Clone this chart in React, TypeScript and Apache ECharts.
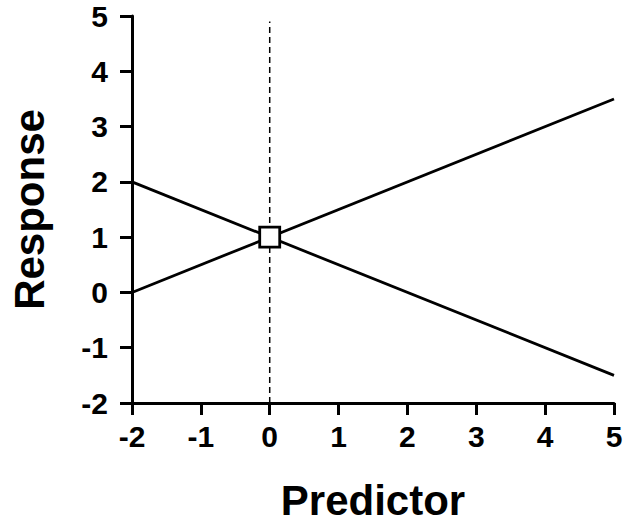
import React, { useEffect, useRef } from "react";
import * as echarts from "echarts";

// Two linear responses crossing at the reference point (0, 1)
const predictorRange = [-2, 5];
const risingLine = [
  [-2, 0],
  [5, 3.5],
];
const fallingLine = [
  [-2, 2],
  [5, -1.5],
];
const crossingPoint = [[0, 1]];
const referenceX = 0;
const responseRange = [-2, 5];

const FONT = "Arial, 'Liberation Sans', Helvetica, sans-serif";

export default function App() {
  const ref = useRef<HTMLDivElement>(null);

  useEffect(() => {
    if (!ref.current) return;
    const chart = echarts.init(ref.current, null, { renderer: "svg" });

    const axisCommon = {
      interval: 1,
      axisLine: { onZero: false, lineStyle: { color: "#000", width: 3 } },
      axisTick: { show: true, length: 12, lineStyle: { color: "#000", width: 3 } },
      splitLine: { show: false },
      nameLocation: "middle" as const,
      nameTextStyle: {
        color: "#000",
        fontWeight: "bold" as const,
        fontSize: 42,
        fontFamily: FONT,
      },
    };
    const labelStyle = {
      color: "#000",
      fontWeight: "bold" as const,
      fontSize: 30,
      fontFamily: FONT,
    };

    chart.setOption({
      animation: false,
      backgroundColor: "#fff",
      grid: {
        left: 132,
        right: 11,
        top: 16,
        bottom: 119,
        containLabel: false,
        outerBoundsMode: "none",
      },
      xAxis: {
        ...axisCommon,
        type: "value",
        min: predictorRange[0],
        max: predictorRange[1],
        axisLabel: { ...labelStyle, margin: 18 },
        name: "Predictor",
        nameGap: 76,
      },
      yAxis: {
        ...axisCommon,
        type: "value",
        min: responseRange[0],
        max: responseRange[1],
        axisLabel: { ...labelStyle, margin: 24 },
        name: "Response",
        nameGap: 82,
      },
      series: [
        {
          type: "line",
          data: [
            [referenceX, responseRange[0]],
            [referenceX, responseRange[1] - 0.1],
          ],
          symbol: "none",
          lineStyle: { color: "#000", width: 1.5, type: [6, 4] },
          z: 1,
        },
        {
          type: "line",
          data: risingLine,
          symbol: "none",
          lineStyle: { color: "#000", width: 2.8 },
          z: 2,
        },
        {
          type: "line",
          data: fallingLine,
          symbol: "none",
          lineStyle: { color: "#000", width: 2.8 },
          z: 2,
        },
        {
          type: "scatter",
          data: crossingPoint,
          symbol: "rect",
          symbolSize: 20,
          itemStyle: { color: "#fff", borderColor: "#000", borderWidth: 2.8, opacity: 1 },
          z: 3,
        },
      ],
    });

    return () => chart.dispose();
  }, []);

  return (
    <div
      ref={ref}
      style={{ position: "fixed", left: 0, top: 0, width: 625, height: 522 }}
    />
  );
}
